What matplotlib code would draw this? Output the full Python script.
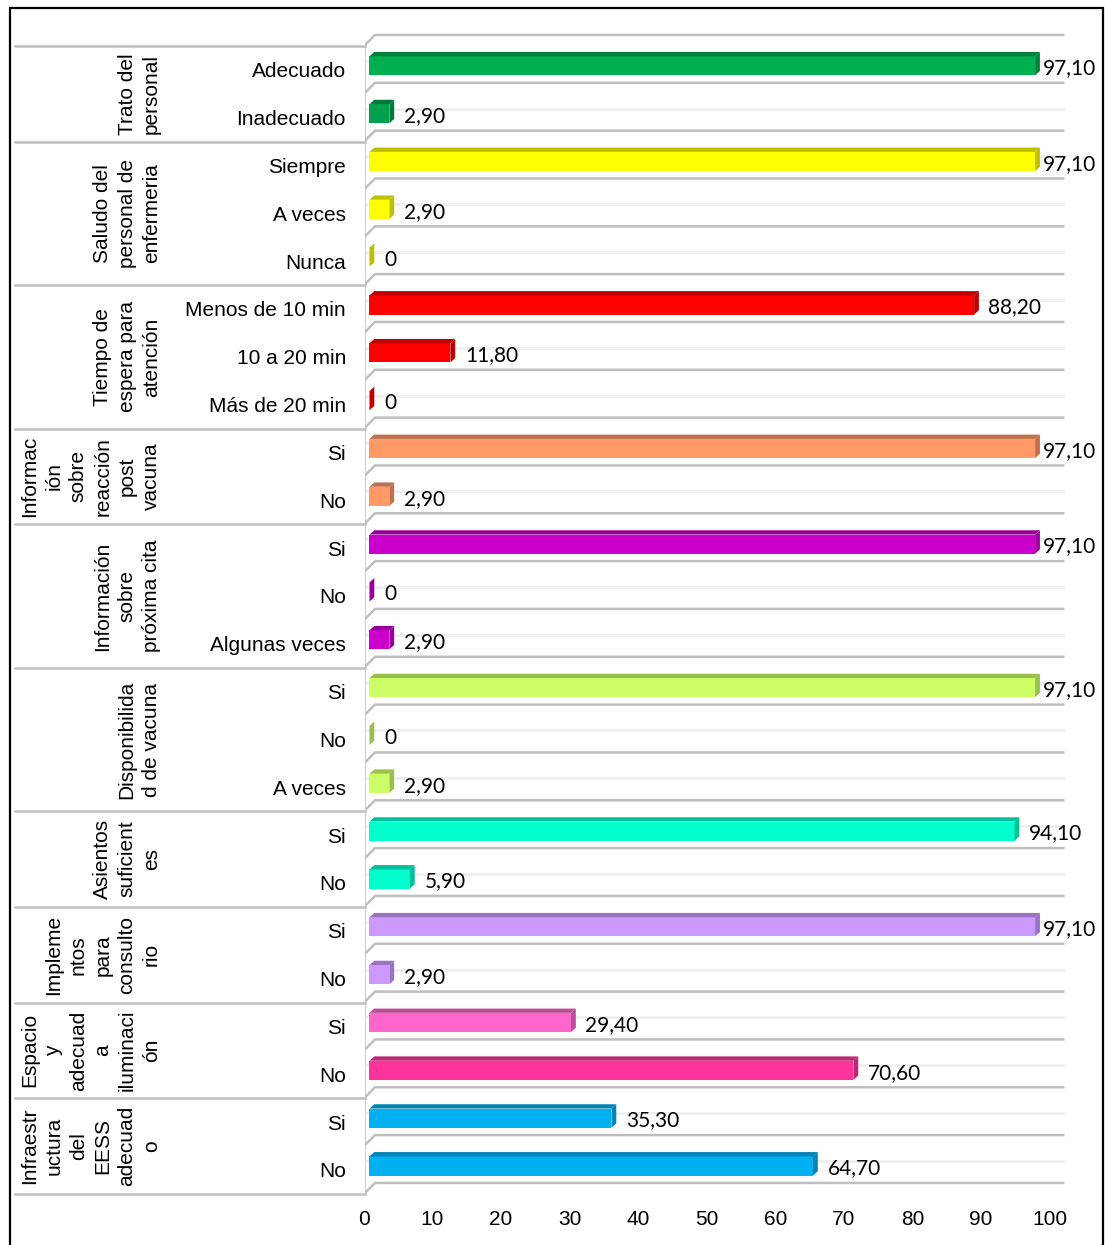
import matplotlib
matplotlib.use("Agg")
import matplotlib.pyplot as plt
from matplotlib.patches import Polygon, Rectangle
from matplotlib.transforms import blended_transform_factory, ScaledTranslation

W, H = 1105, 1245

# ---- data -------------------------------------------------------------
groups = ["Trato del\npersonal",
          "Saludo del\npersonal de\nenfermeria",
          "Tiempo de\nespera para\natención",
          "Informac\nión\nsobre\nreacción\npost\nvacuna",
          "Información\nsobre\npróxima cita",
          "Disponibilida\nd de vacuna",
          "Asientos\nsuficient\nes",
          "Impleme\nntos\npara\nconsulto\nrio",
          "Espacio\ny\nadecuad\na\niluminaci\nón",
          "Infraestr\nuctura\ndel\nEESS\nadecuad\no"]
group_sizes = [2, 3, 3, 2, 3, 3, 2, 2, 2, 2]

items = ["Adecuado", "Inadecuado",
         "Siempre", "A veces", "Nunca",
         "Menos de 10 min", "10 a 20 min", "Más de 20 min",
         "Si", "No",
         "Si", "No", "Algunas veces",
         "Si", "No", "A veces",
         "Si", "No",
         "Si", "No",
         "Si", "No",
         "Si", "No"]
values = [97.10, 2.90,
          97.10, 2.90, 0,
          88.20, 11.80, 0,
          97.10, 2.90,
          97.10, 0, 2.90,
          97.10, 0, 2.90,
          94.10, 5.90,
          97.10, 2.90,
          29.40, 70.60,
          35.30, 64.70]
# (front, darker top/side)
colors = [("#00B050", "#00803A"), ("#00A04E", "#007A3A"),
          ("#FFFF00", "#BFBF00"), ("#FFFF00", "#BFBF00"), ("#FFFF00", "#BFBF00"),
          ("#FF0000", "#C00000"), ("#FF0000", "#C00000"), ("#FF0000", "#C00000"),
          ("#FF9966", "#C0704A"), ("#FF9966", "#C0704A"),
          ("#CC00CC", "#990099"), ("#CC00CC", "#990099"), ("#CC00CC", "#990099"),
          ("#CCFF66", "#99BF4C"), ("#CCFF66", "#99BF4C"), ("#CCFF66", "#99BF4C"),
          ("#00FFCC", "#00BF99"), ("#00FFCC", "#00BF99"),
          ("#CC99FF", "#9973BF"), ("#CC99FF", "#9973BF"),
          ("#FF66CC", "#BF4C99"), ("#FF3399", "#BF2673"),
          ("#00B0F0", "#0084B4"), ("#00B0F0", "#0084B4")]
xticks = list(range(0, 101, 10))

# ---- layout -----------------------------------------------------------
fig = plt.figure(figsize=(W / 100, H / 100), dpi=100)
ax = fig.add_axes([365 / W, 1 - 1200 / H, 700 / W, 1170 / H])
n = len(values)
ax.set_xlim(-0.656, 101.46)
ax.set_ylim(23.742, -0.719)
for s in ax.spines.values():
    s.set_visible(False)
ax.set_yticks([])

DX, DY = 0.80, 0.115     # half depth of the 3D floor, data units
BX, BY = 0.7, 0.09       # bar depth
GRID = "#BFBFBF"

# back gridlines with diagonal joins, front vertical axis
for k in range(n + 1):
    yb = k - 0.5
    ax.plot([-DX, DX, 101.2], [yb + DY, yb - DY, yb - DY], color=GRID, lw=1.8,
            zorder=1, solid_joinstyle="miter")
for i in range(n):
    ax.plot([-0.3, 101.2], [i - DY + 0.04, i - DY + 0.04], color="#EFEFEF", lw=2, zorder=1)
ax.plot([-DX, -DX], [-0.5 + DY, n - 0.5 + DY], color=GRID, lw=1.8, zorder=2)

# bars
ypos = [i + 0.03 for i in range(n)]
h = 0.40
ax.barh(ypos, values, height=h, color=[c[0] for c in colors], zorder=3)
for y, v, (fc, dc) in zip(ypos, values, colors):
    top = Polygon([(0, y - h / 2), (v, y - h / 2), (v + BX, y - h / 2 - BY), (BX, y - h / 2 - BY)],
                  closed=True, fc=dc, ec="none", zorder=3)
    side = Polygon([(v, y - h / 2), (v, y + h / 2), (v + BX, y + h / 2 - BY), (v + BX, y - h / 2 - BY)],
                   closed=True, fc=dc, ec="none", zorder=3)
    ax.add_patch(top)
    ax.add_patch(side)
    lab = f"{v:.2f}".replace(".", ",") if v else "0"
    ax.text(min(v + 2.1, 98.25), y + 0.05, lab, ha="left", va="center",
            fontsize=15, family="Lato", color="black", zorder=4)

# x ticks (front plane)
ax.set_xticks(xticks)
ax.tick_params(axis="x", length=0, pad=7, labelsize=15)
for t in ax.get_xticklabels():
    t.set_family("Liberation Sans")
    t.set_transform(t.get_transform() + ScaledTranslation(-5.5 / 100, 0, fig.dpi_scale_trans))

# category labels
blend = blended_transform_factory(fig.transFigure, ax.transData)
for i, name in enumerate(items):
    ax.text(346 / W, i + DY + 0.04, name, transform=blend, ha="right", va="center",
            fontsize=15, family="Liberation Sans")

# group labels and separators
start = 0
for k in range(len(group_sizes) + 1):
    yb = start - 0.5 + DY
    ax.plot([15 / W, 365 / W], [yb, yb], transform=blend, color=GRID, lw=1.8,
            clip_on=False, zorder=1)
    if k < len(group_sizes):
        sz = group_sizes[k]
        yc = start - 0.5 + sz / 2 + DY
        ax.text(161 / W, yc, groups[k], transform=blend, rotation=90, ha="right",
                va="center", multialignment="center", fontsize=15,
                family="Liberation Sans", linespacing=1.36)
        start += sz

# outer border
fig.patches.append(Rectangle((10 / W, -0.01), 1093 / W, 1 - 8 / H + 0.01,
                             transform=fig.transFigure, fill=False, ec="black", lw=1.6))

fig.savefig("out.png", dpi=100, facecolor="white")
